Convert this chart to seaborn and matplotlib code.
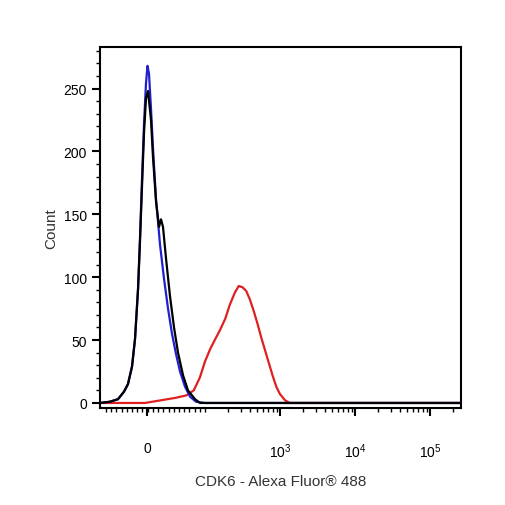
import matplotlib
matplotlib.use("Agg")
import matplotlib.pyplot as plt
import seaborn as sns
import numpy as np
from matplotlib.ticker import MultipleLocator, FixedLocator

# x is in display units: decade position on the biexponential axis (10^3 -> 3)
blue_x = [0.6, 0.733, 0.84, 0.92, 0.973, 1.027, 1.067, 1.107, 1.133, 1.16, 1.187, 1.213, 1.233,
          1.253, 1.28, 1.307, 1.347, 1.4, 1.453, 1.507, 1.56, 1.613, 1.667, 1.733, 1.8, 1.88, 2.0, 5.413]
blue_y = [0, 1, 3, 9, 15, 29, 51, 91, 131, 178, 222, 254, 268,
          262, 234, 202, 162, 126, 99, 75, 55, 39, 25, 13, 5, 1, 0, 0]

black_x = [0.6, 0.733, 0.84, 0.92, 0.973, 1.027, 1.067, 1.107, 1.133, 1.16, 1.187, 1.213, 1.24,
           1.28, 1.307, 1.347, 1.387, 1.413, 1.44, 1.48, 1.533, 1.587, 1.64, 1.707, 1.773, 1.867, 1.933, 5.413]
black_y = [0, 1, 3, 9, 15, 29, 51, 90, 128, 172, 215, 242, 248,
           225, 195, 160, 140, 146, 140, 115, 85, 60, 40, 22, 10, 3, 0, 0]

red_x = [0.6, 1.2, 1.4, 1.6, 1.75, 1.85, 1.93, 2.0, 2.07, 2.13, 2.2, 2.27, 2.33, 2.4, 2.45, 2.5,
         2.55, 2.6, 2.65, 2.7, 2.75, 2.8, 2.85, 2.9, 2.95, 3.0, 3.07, 3.13, 5.413]
red_y = [0, 0, 2, 4, 6, 10, 20, 33, 43, 50, 58, 67, 78, 88, 93, 92,
         89, 82, 73, 63, 52, 42, 32, 22, 13, 7, 2, 0, 0]

tick_pos = [1.227, 3, 4, 5]
tick_labels = ["0", "$10^3$", "$10^4$", "$10^5$"]

sns.set_style("white")
plt.rcParams["font.family"] = ["Liberation Sans", "DejaVu Sans"]
plt.rcParams["mathtext.fontset"] = "custom"
plt.rcParams["mathtext.rm"] = "Liberation Sans"

fig = plt.figure(figsize=(5.06, 5.06), dpi=100)
ax = fig.add_axes([100 / 506, 1 - 409 / 506, 361 / 506, 361 / 506])

for xs, ys, c in [(red_x, red_y, "#e02020"), (blue_x, blue_y, "#2020d0"), (black_x, black_y, "black")]:
    sns.lineplot(x=xs, y=ys, ax=ax, color=c, linewidth=1.6, sort=False)

ax.set_xlim(0.6, 5.413)
ax.set_ylim(-4, 283)
ax.set_xticks(tick_pos)
ax.set_xticklabels(tick_labels, fontsize=10)
minor = []
for d in [2, 3, 4]:
    minor += [d + np.log10(k) for k in range(2, 10)]
minor += [5 + np.log10(2)]
minor += list(np.linspace(0.68, 2.0, 20))
ax.xaxis.set_minor_locator(FixedLocator(minor))
ax.yaxis.set_major_locator(FixedLocator([0, 50, 100, 150, 200, 250]))
ax.yaxis.set_minor_locator(MultipleLocator(10))
ax.tick_params(axis="both", which="both", bottom=True, left=True, color="black")
ax.tick_params(axis="both", which="major", direction="out", length=6, width=1.5, labelsize=10, labelcolor="black")
ax.tick_params(axis="both", which="minor", direction="out", length=3, width=1)
ax.tick_params(axis="x", which="major", pad=18)
for s in ax.spines.values():
    s.set_linewidth(1.5)
    s.set_color("black")
ax.set_xlabel("CDK6 - Alexa Fluor® 488", fontsize=11, color="#333333", labelpad=10)
ax.set_ylabel("Count", fontsize=11, color="#333333")

fig.savefig("out.png", dpi=100)
